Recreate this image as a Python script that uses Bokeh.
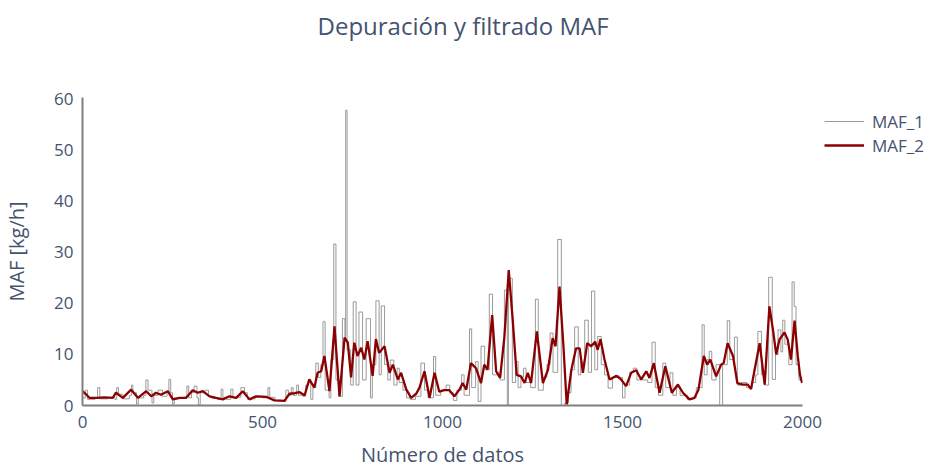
from bokeh.plotting import figure
from bokeh.models import Range1d, Legend, LegendItem, FixedTicker, Title
from bokeh.embed import file_html
from bokeh.resources import INLINE

# ---- data ----
# MAF_1: piecewise-constant raw signal (index where value starts, value)
maf1_idx = [0, 8, 14, 35, 42, 48, 70, 90, 95, 100, 112, 130, 136, 140, 150, 155, 170, 176, 182, 193,
            198, 210, 222, 235, 240, 245, 250, 255, 270, 282, 290, 295, 303, 310, 318, 322, 327, 340, 350, 360,
            375, 385, 390, 400, 412, 418, 430, 440, 450, 458, 470, 480, 500, 515, 520, 535, 560, 565, 572, 580,
            585, 595, 600, 612, 620, 628, 634, 640, 648, 655, 662, 668, 674, 685, 690, 698, 704, 712, 722, 729,
            731, 735, 745, 752, 760, 768, 778, 788, 800, 805, 815, 824, 830, 839, 848, 855, 865, 874, 880, 890,
            900, 910, 925, 940, 950, 960, 975, 981, 995, 1010, 1020, 1030, 1040, 1053, 1060, 1075, 1081, 1092, 1099, 1107,
            1117, 1130, 1139, 1150, 1160, 1172, 1180, 1183, 1194, 1203, 1210, 1218, 1225, 1232, 1245, 1258, 1266, 1280, 1290, 1299,
            1307, 1320, 1330, 1340, 1350, 1357, 1367, 1377, 1384, 1395, 1405, 1414, 1423, 1431, 1441, 1450, 1460, 1472, 1485, 1492,
            1500, 1507, 1520, 1530, 1540, 1560, 1570, 1582, 1591, 1600, 1612, 1620, 1632, 1640, 1650, 1660, 1680, 1695, 1705, 1721,
            1727, 1735, 1741, 1748, 1760, 1770, 1778, 1791, 1798, 1811, 1819, 1830, 1845, 1860, 1870, 1876, 1886, 1895, 1906, 1916,
            1925, 1932, 1940, 1945, 1951, 1962, 1971, 1977, 1982, 1990, 1999]
maf1_val = [1.5, 3.0, 1.2, 1.5, 3.5, 1.3, 1.6, 1.2, 3.5, 2.2, 1.3, 2.0, 4.0, 2.5, 0.3, 1.5, 2.0, 5.0, 3.0, 0.5,
            2.0, 3.0, 1.8, 2.5, 5.1, 2.5, 0.3, 1.5, 1.4, 1.6, 3.8, 1.5, 2.5, 3.8, 1.5, 0.2, 2.5, 3.0, 1.8, 1.4,
            1.2, 3.2, 1.5, 1.2, 3.2, 1.5, 1.6, 3.5, 2.5, 1.2, 1.3, 1.8, 1.5, 3.5, 1.6, 1.0, 0.8, 3.0, 2.0, 3.5,
            2.0, 4.0, 2.0, 1.8, 4.0, 5.0, 1.2, 3.5, 8.3, 5.5, 8.0, 16.4, 3.0, 1.5, 9.0, 31.6, 5.0, 1.8, 17.0, 13.0,
            57.8, 10.9, 4.0, 20.3, 4.0, 18.3, 5.0, 17.0, 1.5, 8.0, 20.5, 6.0, 19.5, 8.0, 5.0, 8.9, 4.0, 7.3, 4.5, 3.0,
            1.5, 1.2, 1.8, 8.3, 3.0, 1.5, 9.6, 2.0, 3.0, 4.0, 2.5, 1.0, 3.0, 6.0, 2.0, 15.0, 3.5, 8.6, 0.8, 11.6,
            7.0, 21.8, 6.0, 6.5, 5.0, 22.6, 0.0, 24.9, 4.5, 8.6, 3.5, 5.5, 7.3, 4.5, 3.5, 20.8, 3.0, 5.5, 8.0, 14.2,
            6.5, 32.5, 0.0, 0.5, 2.5, 7.0, 15.4, 6.0, 8.5, 16.7, 6.5, 22.4, 7.0, 13.5, 8.0, 6.0, 3.4, 5.5, 5.8, 5.5,
            1.5, 4.0, 6.5, 7.3, 5.0, 5.0, 4.5, 12.4, 3.5, 2.0, 8.3, 3.5, 6.4, 2.0, 3.5, 2.0, 1.2, 1.5, 3.5, 15.8,
            6.0, 9.0, 10.6, 5.0, 8.0, 0.0, 8.0, 16.6, 9.0, 13.4, 4.0, 4.5, 3.5, 4.5, 6.0, 14.5, 6.0, 4.0, 25.1, 5.1,
            10.0, 14.8, 10.5, 16.7, 12.0, 8.0, 24.2, 19.4, 8.0, 5.0, 4.5]

# MAF_2: filtered signal (index, value)
maf2_idx = [0, 10, 19, 40, 60, 84, 93, 112, 135, 154, 177, 191, 204, 218, 237, 251, 270, 288, 306, 320,
            334, 353, 371, 390, 408, 427, 445, 464, 482, 510, 533, 561, 575, 589, 603, 617, 630, 644, 653, 663,
            672, 686, 700, 714, 728, 737, 746, 755, 764, 774, 783, 792, 806, 815, 824, 839, 853, 862, 876, 885,
            899, 913, 927, 936, 950, 964, 978, 991, 1005, 1019, 1033, 1047, 1056, 1066, 1079, 1093, 1107, 1116, 1125, 1138,
            1149, 1160, 1172, 1184, 1195, 1206, 1218, 1228, 1237, 1246, 1262, 1279, 1293, 1306, 1314, 1325, 1336, 1345, 1358, 1371,
            1381, 1390, 1402, 1413, 1424, 1431, 1439, 1450, 1464, 1483, 1496, 1510, 1524, 1538, 1552, 1566, 1575, 1587, 1603, 1619,
            1637, 1654, 1668, 1686, 1700, 1711, 1726, 1735, 1744, 1760, 1774, 1781, 1792, 1807, 1819, 1834, 1848, 1857, 1867, 1881,
            1895, 1908, 1918, 1927, 1936, 1950, 1959, 1968, 1978, 1987, 1993, 1999]
maf2_val = [2.8, 2.2, 1.5, 1.5, 1.6, 1.5, 2.5, 1.5, 3.1, 1.5, 2.8, 1.8, 2.5, 2.1, 2.8, 1.2, 1.5, 1.5, 3.0, 2.5,
            2.8, 1.8, 1.5, 1.2, 1.8, 1.5, 2.8, 1.2, 1.8, 1.7, 1.0, 0.9, 2.3, 2.4, 2.6, 2.0, 5.1, 3.5, 6.4, 6.7,
            9.7, 2.8, 15.5, 1.8, 13.3, 12.3, 5.5, 12.3, 9.7, 11.3, 9.0, 12.6, 5.8, 13.0, 10.3, 11.6, 6.4, 8.0, 5.1, 6.4,
            3.2, 1.5, 2.3, 3.5, 6.7, 1.5, 6.4, 2.7, 3.0, 3.0, 1.8, 3.1, 4.4, 3.1, 8.3, 7.3, 4.4, 8.0, 7.0, 17.7,
            6.7, 5.4, 13.5, 26.5, 16.8, 6.0, 5.7, 4.4, 6.4, 4.4, 14.5, 4.4, 7.0, 13.2, 11.6, 23.3, 11.6, 0.2, 7.0, 11.2,
            11.2, 6.4, 12.2, 11.6, 12.5, 10.9, 13.0, 9.0, 5.1, 5.8, 5.1, 3.8, 6.4, 6.9, 5.1, 6.7, 5.4, 8.3, 2.5, 7.7,
            2.5, 4.1, 2.5, 1.2, 1.5, 3.1, 9.7, 8.0, 9.0, 5.7, 8.0, 8.3, 12.2, 9.7, 4.4, 4.1, 4.1, 3.2, 7.0, 12.2,
            4.1, 19.4, 14.8, 10.0, 12.9, 14.3, 12.9, 9.0, 16.6, 9.6, 6.0, 4.4]

y_ticks = [0, 10, 20, 30, 40, 50, 60]
x_ticks = [0, 500, 1000, 1500, 2000]

FONT = "Open Sans"
TXT = "#44536f"

p = figure(frame_width=720, frame_height=308, output_backend="svg", toolbar_location=None,
           x_range=Range1d(0, 2000), y_range=Range1d(0, 60.3),
           min_border_left=75, min_border_right=119, min_border_top=97, min_border_bottom=53)

p.outline_line_color = None
p.xgrid.grid_line_color = None
p.ygrid.grid_line_color = None
p.background_fill_color = "white"

# white (invisible) spacer next to the plot area, visible title above it
spacer = Title(text=".", text_font=FONT, text_font_size="10px", text_color="white", standoff=44,
               vertical_align="top")
title = Title(text="Depuración y filtrado MAF", align="left", offset=235, vertical_align="top", standoff=0,
              text_font=FONT, text_font_size="24px", text_font_style="normal", text_color=TXT)
p.add_layout(spacer, "above")
p.add_layout(title, "above")

r1 = p.step(maf1_idx, maf1_val, mode="after", line_color="#8a8a8a", line_width=1, line_alpha=0.85)
r2 = p.line(maf2_idx, maf2_val, line_color="#8b0000", line_width=2.3)

for ax in (p.xaxis[0], p.yaxis[0]):
    ax.axis_line_color = "#7f7f7f"
    ax.axis_line_width = 2
    ax.major_tick_line_color = None
    ax.minor_tick_line_color = None
    ax.major_label_text_font = FONT
    ax.major_label_text_font_size = "17px"
    ax.major_label_text_color = TXT
    ax.axis_label_text_font = FONT
    ax.axis_label_text_font_size = "20px"
    ax.axis_label_text_font_style = "normal"
    ax.axis_label_text_color = TXT

p.xaxis.ticker = FixedTicker(ticks=x_ticks)
p.yaxis.ticker = FixedTicker(ticks=y_ticks)
p.xaxis.axis_label = "Número de datos"
p.yaxis.axis_label = "MAF [kg/h]"
p.xaxis.major_label_standoff = 4
p.yaxis.major_label_standoff = 3
p.xaxis.axis_label_standoff = 10
p.yaxis.axis_label_standoff = 21

legend = Legend(items=[LegendItem(label="MAF_1", renderers=[r1]),
                       LegendItem(label="MAF_2", renderers=[r2])],
                location=(22, 248), orientation="vertical")
legend.border_line_color = None
legend.background_fill_alpha = 0
legend.padding = 0
legend.margin = 0
legend.spacing = 0
legend.glyph_width = 40
legend.glyph_height = 24
legend.label_height = 24
legend.label_standoff = 8
legend.label_text_font = FONT
legend.label_text_font_size = "17px"
legend.label_text_color = TXT
p.add_layout(legend, "right")

html = file_html(p, INLINE)
open("out.html", "w").write(html)
